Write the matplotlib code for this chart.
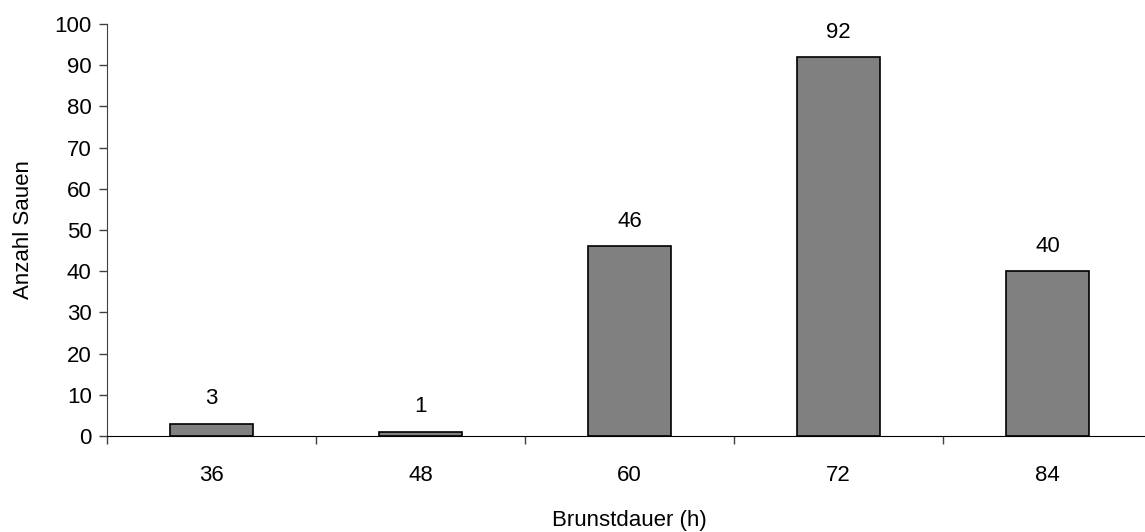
import numpy as np
import matplotlib.pyplot as plt

plt.rcParams['font.family'] = ['Liberation Sans', 'DejaVu Sans']

categories = ['36', '48', '60', '72', '84']
counts = [3, 1, 46, 92, 40]

fig = plt.figure(figsize=(11.45, 5.32), dpi=100)
ax = fig.add_axes([0.0934, 0.1805, 0.9127, 0.7744])

x = np.arange(len(categories))
ax.bar(x, counts, width=0.4, color='#808080', edgecolor='black', linewidth=1.2, zorder=2)
for xi, v in zip(x, counts):
    ax.text(xi, v + 3.5, str(v), ha='center', va='bottom', fontsize=16)

ax.set_xlim(-0.5, 4.5)
ax.set_ylim(0, 100)
ax.set_yticks(np.arange(0, 101, 10))
ax.set_xticks(x)
ax.set_xticklabels(categories)
ax.set_xticks(np.arange(-0.5, 4.6, 1), minor=True)
ax.tick_params(axis='x', which='major', length=0, pad=21, labelsize=16)
ax.tick_params(axis='x', which='minor', length=6, width=1, color='#404040')
ax.tick_params(axis='y', length=6, width=1, color='#404040', labelsize=16, pad=5)

for s in ['top', 'right']:
    ax.spines[s].set_visible(False)
ax.spines['left'].set_color('#404040')
ax.spines['bottom'].set_color('black')

ax.set_xlabel('Brunstdauer (h)', fontsize=16, labelpad=17)
ax.set_ylabel('Anzahl Sauen', fontsize=16, labelpad=15)

plt.savefig('out.png', dpi=100)
